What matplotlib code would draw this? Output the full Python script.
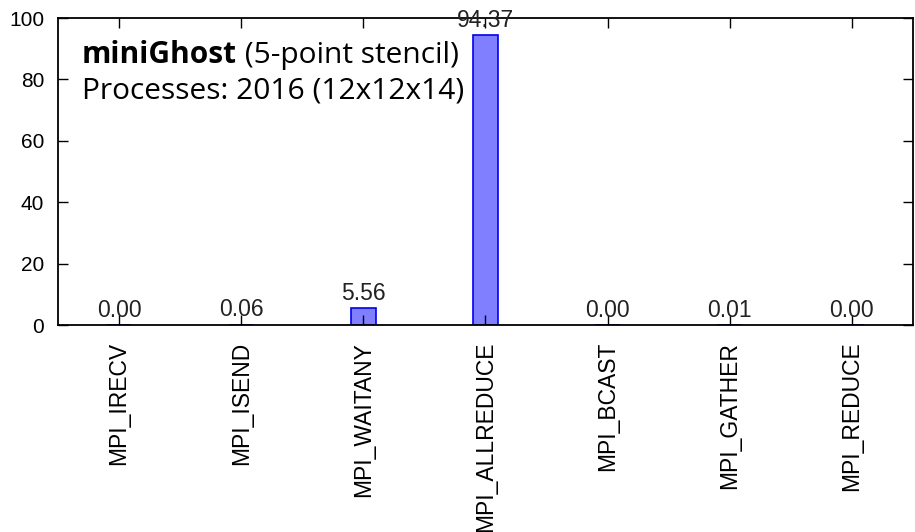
import matplotlib
matplotlib.use("Agg")
import matplotlib.pyplot as plt
import numpy as np

# MPI call share of communication time (%)
calls = ["MPI_IRECV", "MPI_ISEND", "MPI_WAITANY", "MPI_ALLREDUCE",
         "MPI_BCAST", "MPI_GATHER", "MPI_REDUCE"]
percent = [0.00, 0.06, 5.56, 94.37, 0.00, 0.01, 0.00]
yticks = [0, 20, 40, 60, 80, 100]

plt.rcParams["font.family"] = ["Liberation Sans", "DejaVu Sans"]
note_font = ["Open Sans", "Lato", "DejaVu Sans"]

fig = plt.figure(figsize=(9.15, 5.32), dpi=100)
ax = fig.add_axes([0.0634, 0.389, 0.9344, 0.577])

x = np.arange(len(calls))
ax.bar(x, percent, width=0.2, color="#7f7fff", edgecolor="#0000ee", linewidth=1.2)
for xi, v in zip(x, percent):
    ax.annotate(f"{v:.2f}", (xi, v), xytext=(0, 2.5), textcoords="offset points",
                ha="center", va="bottom", fontsize=16.5, color="#222222",
                annotation_clip=False)

ax.set_xlim(-0.5, len(calls) - 0.5)
ax.set_ylim(0, 100)
ax.set_yticks(yticks)
ax.set_xticks(x)
ax.set_xticklabels(calls, rotation=90)
ax.tick_params(axis="both", direction="in", length=7, width=1, top=True, right=True,
               labelsize=15)
ax.tick_params(axis="x", labelsize=16.5, pad=12)
ax.tick_params(axis="y", pad=10)
for s in ax.spines.values():
    s.set_linewidth(1.3)

t1 = ax.text(0.028, 0.853, "miniGhost", transform=ax.transAxes, fontsize=21.5,
             fontweight="bold", family=note_font, va="baseline")
fig.canvas.draw()
bb = t1.get_window_extent()
xe = ax.transAxes.inverted().transform((bb.x1, bb.y0))[0]
ax.text(xe, 0.853, " (5-point stencil)", transform=ax.transAxes, fontsize=21.5,
        family=note_font, va="baseline")
ax.text(0.028, 0.739, "Processes: 2016 (12x12x14)", transform=ax.transAxes, fontsize=21.5,
        family=note_font, va="baseline")

fig.savefig("out.png", dpi=100)
